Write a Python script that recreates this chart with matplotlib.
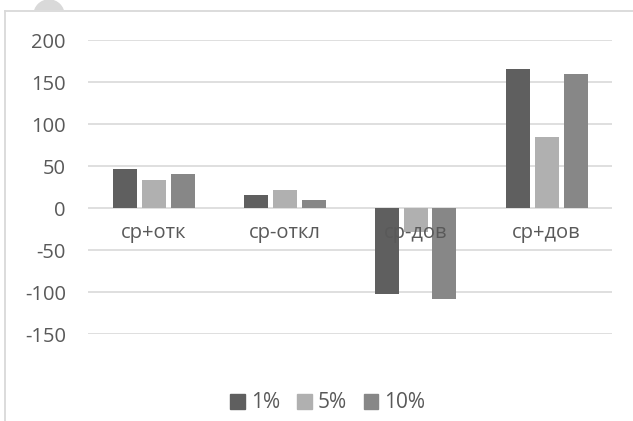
import matplotlib
matplotlib.use("Agg")
import matplotlib.pyplot as plt
from matplotlib.patches import Rectangle, Circle
from matplotlib.lines import Line2D
import numpy as np

categories = ["ср+отк", "ср-откл", "ср-дов", "ср+дов"]
series_names = ["1%", "5%", "10%"]
vals_1 = [46, 16, -102, 165]
vals_5 = [33, 21, -29, 85]
vals_10 = [40, 10, -108, 159]
colors = ["#5f5f5f", "#b0b0b0", "#878787"]
yticks = [-150, -100, -50, 0, 50, 100, 150, 200]

plt.rcParams['font.family'] = ['Open Sans', 'DejaVu Sans']
W, H = 633, 421
fig = plt.figure(figsize=(W/100, H/100), dpi=100)
fig.patch.set_facecolor("white")

ax = fig.add_axes([88/W, 1-334/H, (612-88)/W, (334-40)/H])
ax.set_xlim(-0.5, 3.5)
ax.set_ylim(-150, 200)
x = np.arange(len(categories))
bw = 24/131
step = 29/131
for i, (vals, c, name) in enumerate(zip([vals_1, vals_5, vals_10], colors, series_names)):
    ax.bar(x + (i-1)*step, vals, width=bw, color=c, zorder=3, label=name)

for t in yticks:
    ax.axhline(t, color="#d9d9d9", lw=1.2, zorder=1)
ax.set_yticks(yticks)
ax.set_yticklabels([str(t) for t in yticks], color="#595959", fontsize=14.5)
ax.tick_params(axis='y', length=0, pad=16)
ax.set_xticks([])
for s in ax.spines.values():
    s.set_visible(False)
for xi, cat in zip(x, categories):
    ax.annotate(cat, (xi, 0), xytext=(0, -30), textcoords="offset pixels",
                ha="center", va="baseline", fontsize=14.5, color="#595959", zorder=4)

# legend
handles = [Rectangle((0, 0), 1, 1, color=c) for c in colors]
leg = fig.legend(handles, series_names, loc="center", bbox_to_anchor=(328/W, 1-403/H),
                 ncol=3, frameon=False, fontsize=15, handlelength=0.7, handleheight=0.7,
                 handletextpad=0.3, columnspacing=0.8, labelcolor="#595959")

# outer borders
fig.add_artist(Line2D([4.5/W, 1], [1-10.7/H, 1-10.7/H], color="#d9d9d9", lw=1.3))
fig.add_artist(Line2D([4.5/W, 4.5/W], [0, 1-10.7/H], color="#d9d9d9", lw=1.3))
# partial gray circle at top
circ_ax = fig.add_axes([0, 1-10/H, 1, 10/H])
circ_ax.set_xlim(0, W)
circ_ax.set_ylim(10, 0)
circ_ax.axis("off")
circ_ax.add_patch(Circle((49, 15), 15, color="#d9d9d9", clip_on=True))

fig.savefig("out.png", dpi=100, facecolor="white")
